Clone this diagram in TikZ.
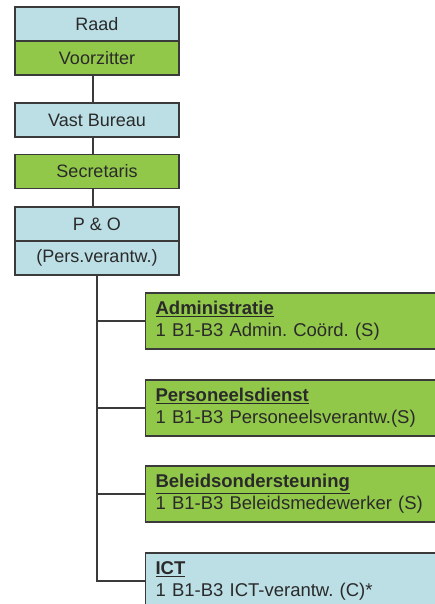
\documentclass[tikz,border=0pt]{standalone}
\usepackage{fontspec}
\setmainfont{Liberation Sans}
\frenchspacing
\definecolor{unitBlue}{HTML}{BCDFE6}
\definecolor{unitGreen}{HTML}{92C84A}
\definecolor{lineGray}{HTML}{3A3A3A}
\definecolor{textGray}{HTML}{2A2A2A}

\begin{document}
\begin{tikzpicture}[
  x=1pt, y=-1pt,
  unit/.style={
    draw=lineGray,
    line width=1.2pt,
    minimum width=164pt,
    minimum height=34pt,
    inner sep=0pt,
    text=textGray,
    font=\fontsize{18}{21}\selectfont,
  },
  blue unit/.style={unit, fill=unitBlue},
  green unit/.style={unit, fill=unitGreen},
  dept/.style={
    draw=lineGray,
    line width=1.2pt,
    anchor=west,
    minimum height=56pt,
    text width=280pt,
    inner xsep=10pt,
    inner ysep=0pt,
    align=left,
    text=textGray,
    font=\fontsize{18.5}{22}\selectfont,
  },
  blue dept/.style={dept, fill=unitBlue},
  green dept/.style={dept, fill=unitGreen},
  link/.style={draw=lineGray, line width=1.1pt},
]
\useasboundingbox (0,0) rectangle (435,604);
\clip (0,0) rectangle (435,604);

% board column
\node[blue unit]  (raad)  at (97,24)    {Raad};
\node[green unit] (voorz) at (97,58)    {Voorzitter};
\node[blue unit]  (vast)  at (97,120)   {Vast Bureau};
\node[green unit] (secr)  at (97,171.5) {Secretaris};
\node[blue unit]  (po)    at (97,224)   {P \& O};
\node[blue unit]  (pers)  at (97,258)   {(Pers.verantw.)};

% departments
\node[green dept] (admin)  at (145,321) {\underline{\textbf{Administratie}}\\1 B1-B3 Admin. Coörd. (S)};
\node[green dept] (persd)  at (145,408) {\underline{\textbf{Personeelsdienst}}\\1 B1-B3 Personeelsverantw.(S)};
\node[green dept] (beleid) at (145,494) {\underline{\textbf{Beleidsondersteuning}}\\1 B1-B3 Beleidsmedewerker (S)};
\node[blue dept]  (ict)    at (145,581) {\underline{\textbf{ICT}}\\1 B1-B3 ICT-verantw. (C)*};

\draw[link] ([xshift=-4pt]voorz.south) -- ([xshift=-4pt]vast.north);
\draw[link] ([xshift=-4pt]vast.south) -- ([xshift=-4pt]secr.north);
\draw[link] ([xshift=-4pt]secr.south) -- ([xshift=-4pt]po.north);
\draw[link] (pers.south) |- (ict.west);
\draw[link] (pers.south) |- (admin.west);
\draw[link] (pers.south) |- (persd.west);
\draw[link] (pers.south) |- (beleid.west);
\end{tikzpicture}
\end{document}
